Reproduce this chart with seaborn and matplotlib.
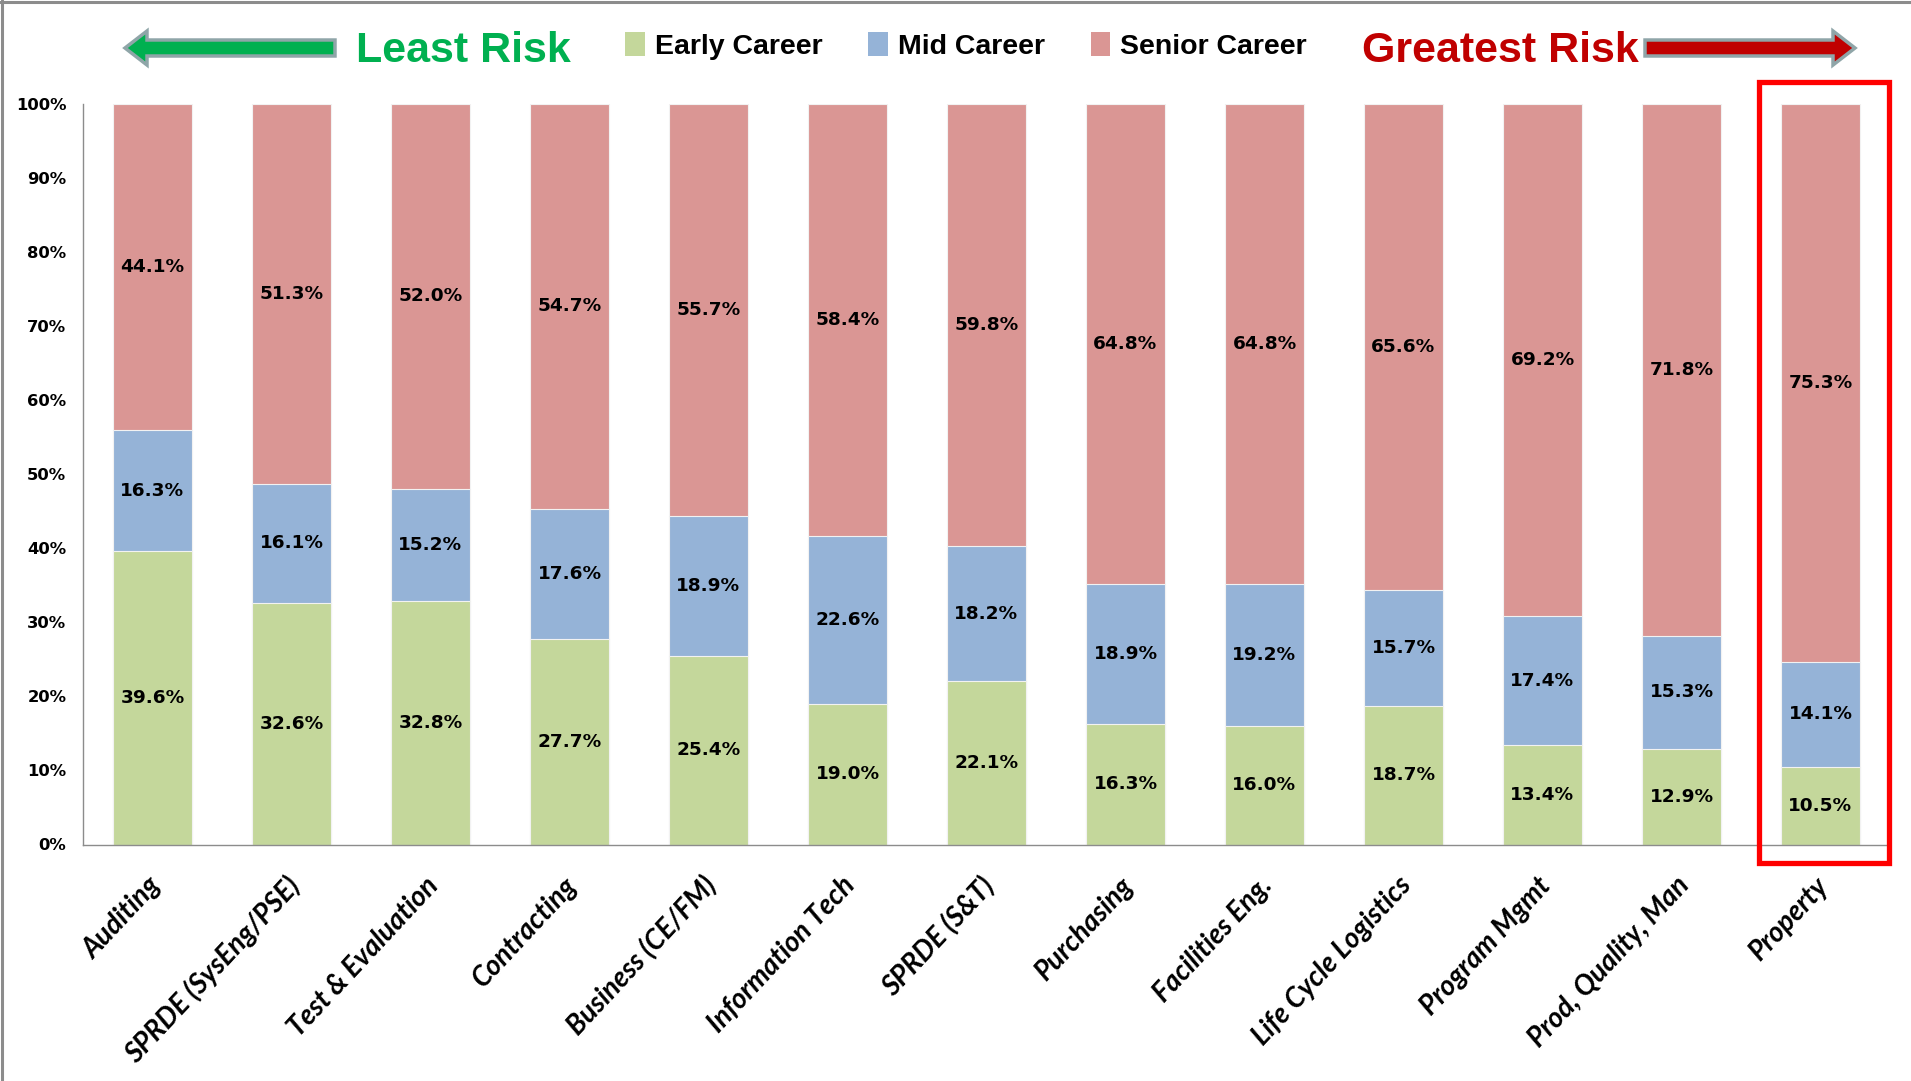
import matplotlib
matplotlib.use("Agg")
import matplotlib.pyplot as plt
import seaborn as sns
import pandas as pd
import numpy as np
from matplotlib.patches import Polygon, Rectangle, Patch
from matplotlib.transforms import IdentityTransform, ScaledTranslation
from matplotlib.lines import Line2D

# ---------------- data ----------------
categories = ["Auditing", "SPRDE (SysEng/PSE)", "Test & Evaluation", "Contracting",
              "Business (CE/FM)", "Information Tech", "SPRDE (S&T)", "Purchasing",
              "Facilities Eng.", "Life Cycle Logistics", "Program Mgmt",
              "Prod, Quality, Man", "Property"]
early = [39.6, 32.6, 32.8, 27.7, 25.4, 19.0, 22.1, 16.3, 16.0, 18.7, 13.4, 12.9, 10.5]
mid = [16.3, 16.1, 15.2, 17.6, 18.9, 22.6, 18.2, 18.9, 19.2, 15.7, 17.4, 15.3, 14.1]
senior = [44.1, 51.3, 52.0, 54.7, 55.7, 58.4, 59.8, 64.8, 64.8, 65.6, 69.2, 71.8, 75.3]
series_names = ["Early Career", "Mid Career", "Senior Career"]
y_ticks = [0, 10, 20, 30, 40, 50, 60, 70, 80, 90, 100]
y_tick_labels = [f"{v}%" for v in y_ticks]
highlight = "Property"
left_text = "Least Risk"
right_text = "Greatest Risk"

# ---------------- style ----------------
c_early, c_mid, c_senior = "#C4D79B", "#95B3D7", "#DA9694"
narrow = ["Liberation Sans Narrow", "Liberation Sans"]

sns.set_theme(style="white")
plt.rcParams["font.family"] = ["DejaVu Sans"]
plt.rcParams["text.color"] = "black"
plt.rcParams["xtick.color"] = "black"
plt.rcParams["ytick.color"] = "black"

W, H = 1911, 1081
fig = plt.figure(figsize=(W / 100, H / 100), dpi=100)
ax = fig.add_axes([83 / W, 1 - 844.5 / H, (1890 - 83) / W, (844.5 - 103.6) / H])

e = np.array(early)
m = np.array(mid)
s = np.array(senior)
tot = e + m + s
e_n = e / tot * 100
m_n = m / tot * 100
s_n = s / tot * 100

df = pd.DataFrame({"cat": categories, "top": e_n + m_n + s_n, "em": e_n + m_n, "e": e_n})

bw = 0.57
for col, colr in [("top", c_senior), ("em", c_mid), ("e", c_early)]:
    sns.barplot(data=df, x="cat", y=col, color=colr, saturation=1, width=bw, ax=ax,
                edgecolor="#F2F2F2", linewidth=0.8, errorbar=None)

lab_kw = dict(ha="center", va="center", fontsize=13.3, fontweight="bold", color="black")
for i in range(len(categories)):
    ax.text(i, e_n[i] / 2, f"{early[i]:.1f}%", **lab_kw)
    ax.text(i, e_n[i] + m_n[i] / 2, f"{mid[i]:.1f}%", **lab_kw)
    ax.text(i, e_n[i] + m_n[i] + s_n[i] / 2, f"{senior[i]:.1f}%", **lab_kw)

ax.set_xlim(-0.5, len(categories) - 0.5)
ax.set_ylim(0, 100)
ax.set_yticks(y_ticks)
ax.set_yticklabels(y_tick_labels, fontsize=11.8, fontweight="bold")
ax.set_xticks(range(len(categories)))
ax.set_xticklabels(categories, rotation=47, ha="right", va="top", rotation_mode="anchor",
                   fontsize=20, fontweight="bold", fontstyle="italic", family=["Lato", "DejaVu Sans"])
ax.tick_params(axis="y", length=0, pad=12)
ax.tick_params(axis="x", length=0, pad=20)
shift = ScaledTranslation(-6 / 100, 0, fig.dpi_scale_trans)
for lbl in ax.get_xticklabels():
    lbl.set_transform(lbl.get_transform() + shift)
ax.set_xlabel("")
ax.set_ylabel("")
for sp in ["top", "right"]:
    ax.spines[sp].set_visible(False)
for sp in ["left", "bottom"]:
    ax.spines[sp].set_color("#8C8C8C")
    ax.spines[sp].set_linewidth(1.0)
ax.grid(False)

# highlight box around the last category
hi = categories.index(highlight)
rect = Rectangle((hi - 0.44, -2.5), 0.93, 105.4, fill=False, edgecolor="#FF0000",
                 linewidth=3.8, clip_on=False, zorder=5)
ax.add_patch(rect)

# legend
handles = [Patch(facecolor=c, edgecolor="none") for c in (c_early, c_mid, c_senior)]
fig.legend(handles, series_names, loc="center", bbox_to_anchor=(966 / W, 1 - 46 / H),
           ncol=3, frameon=False, prop={"family": narrow, "weight": "bold", "size": 20.5},
           labelcolor="black",
           handlelength=0.7, handleheight=0.9, handletextpad=0.35, columnspacing=1.6)

# header arrows (pixel coordinates)
def yy(v):
    return H - v

def block_arrow(x_tail, x_tip, yc, fc):
    d = 1 if x_tip > x_tail else -1
    hl = 22
    hh = 17
    sh = 8
    xb = x_tip - d * hl
    pts = [(x_tail, yy(yc - sh)), (xb, yy(yc - sh)), (xb, yy(yc - hh)), (x_tip, yy(yc)),
           (xb, yy(yc + hh)), (xb, yy(yc + sh)), (x_tail, yy(yc + sh))]
    p = Polygon(pts, closed=True, facecolor=fc, edgecolor="#8FA5A8", linewidth=2.5,
                transform=IdentityTransform())
    fig.add_artist(p)

block_arrow(335, 125, 48, "#00B050")
block_arrow(1645, 1855, 48, "#C00000")

fig.text(356 / W, 1 - 51 / H, left_text, color="#00B050", fontsize=31, fontweight="bold",
         family=narrow, ha="left", va="center")
fig.text(1362 / W, 1 - 51 / H, right_text, color="#C00000", fontsize=31, fontweight="bold",
         family=narrow, ha="left", va="center")

# partial frame of screenshot (top and left)
fig.add_artist(Line2D([0, 1], [1 - 1.5 / H, 1 - 1.5 / H], color="#8C8C8C", linewidth=2.2,
                      transform=fig.transFigure))
fig.add_artist(Line2D([1.5 / W, 1.5 / W], [0, 1], color="#8C8C8C", linewidth=2.2,
                      transform=fig.transFigure))

fig.savefig("out.png", dpi=100)
